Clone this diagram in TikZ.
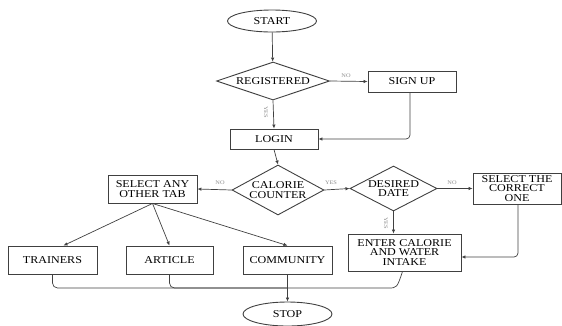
\documentclass[tikz,border=0pt]{standalone}
\usepackage{fontspec}
\setmainfont{Liberation Serif}[FakeStretch=1.15]
\usetikzlibrary{shapes.geometric,arrows.meta}
\definecolor{ln}{gray}{0.25}
\definecolor{lbl}{gray}{0.55}
\tikzset{
  base/.style={draw=ln,line width=0.9pt,inner sep=0pt,align=center,
    font=\fontsize{10.5}{9.5}\selectfont},
  boxn/.style={base,rectangle},
  ell/.style={base,ellipse},
  dia/.style={base,diamond},
  conn/.style={draw=ln,line width=0.7pt,-{Latex[length=4pt,width=3.5pt]}},
  plain/.style={draw=ln,line width=0.7pt},
  lab/.style={text=lbl,inner sep=0pt,font=\fontsize{5.5}{6}\selectfont},
  txt/.style={inner sep=0pt,align=center,font=\fontsize{10.5}{9.5}\selectfont}
}
\begin{document}
\begin{tikzpicture}[x=1pt,y=-1pt]
\useasboundingbox (0,0) rectangle (562,325);
\node[ell,minimum width=89,minimum height=22] (start) at (272,21) {START};
\node[dia,minimum width=113,minimum height=38] (reg) at (273,81) {};
\node[txt] at (reg) {REGISTERED};
\node[boxn,minimum width=88,minimum height=21] (signup) at (412,81.5) {SIGN UP};
\node[boxn,minimum width=88,minimum height=20] (login) at (274,139) {LOGIN};
\node[dia,minimum width=92,minimum height=50] (cc) at (278,190) {};
\node[txt] at (cc) {CALORIE\\COUNTER};
\node[boxn,minimum width=89,minimum height=28] (sel) at (152.5,189) {SELECT ANY\\OTHER TAB};
\node[dia,minimum width=87,minimum height=45] (dd) at (393.5,188.5) {};
\node[txt] at (dd) {DESIRED\\DATE};
\node[boxn,minimum width=88,minimum height=31] (sco) at (517,188.5) {SELECT THE\\CORRECT\\ONE};
\node[boxn,minimum width=113,minimum height=37] (enter) at (404.5,252.5) {ENTER CALORIE\\AND WATER\\INTAKE};
\node[boxn,minimum width=89,minimum height=28] (tr) at (52.5,260) {TRAINERS};
\node[boxn,minimum width=87,minimum height=28] (art) at (169.5,260) {ARTICLE};
\node[boxn,minimum width=89,minimum height=28] (com) at (287.5,260) {COMMUNITY};
\node[ell,minimum width=89,minimum height=24] (stop) at (287.5,314) {STOP};
\coordinate (bus) at (287.5,288);
% labels
\node[lab] (l1) at (346,76) {NO};
\node[lab,rotate=-90] (l2) at (266,112) {YES};
\node[lab] (l3) at (220,182.5) {NO};
\node[lab] (l4) at (331,182.5) {YES};
\node[lab] (l5) at (452,182.5) {NO};
\node[lab,rotate=-90] (l6) at (386,223) {YES};
% connectors
\draw[conn] (start) -- (reg);
\draw[conn] (reg.east) -- (signup.west);
\draw[conn] (reg.south) -- (login.north);
\draw[conn,rounded corners=4pt] (signup.south -| 410,0) |- (login.east);
\draw[conn] (login.south) -- (cc.north);
\draw[conn] (cc.west) -- (sel.east);
\draw[conn] (cc.east) -- (dd.west);
\draw[conn] (dd.east) -- (sco.west);
\draw[conn] (dd.south) -- (enter.north -| dd.south);
\draw[conn,rounded corners=4pt] (sco.south -| 518,0) |- (enter.east |- 0,257);
\draw[conn] (sel.south) -- ([xshift=11pt]tr.north);
\draw[conn] (sel.south) -- (art.north);
\draw[conn] (sel.south) -- (com.north);
\draw[plain,rounded corners=5pt] (tr.south) |- (bus);
\draw[plain,rounded corners=5pt] (art.south) |- (bus);
\draw[plain] ([xshift=-2pt]enter.south) .. controls (397,288) .. (388,288) -- (bus);
\draw[conn] (com.south) -- (stop.north);
\end{tikzpicture}
\end{document}
